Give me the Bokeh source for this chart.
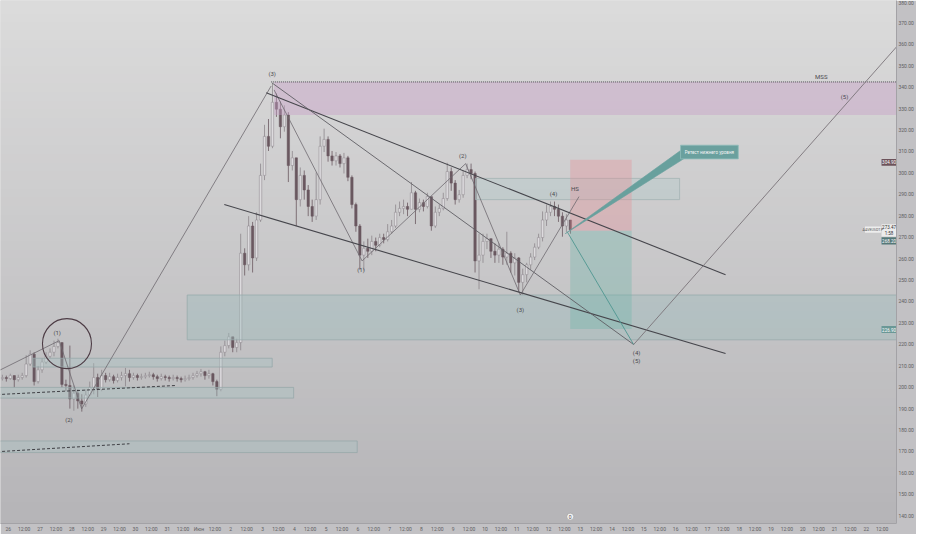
import numpy as np
from bokeh.plotting import figure
from bokeh.models import Range1d, FixedTicker, PrintfTickFormatter, ColumnDataSource
from bokeh.embed import file_html
from bokeh.resources import INLINE
from bokeh.core.properties import value

FONT = "Roboto"

# ---- candle data (3h candles, time in hours from the 1st of the month) ----
T_START = -150
STEP = 3
first_open = 204.0
close = [204.5,204.0,205.4,203.5,204.5,205.4,210.8,215.4,202.6,208.1,
         211.7,214.4,216.3,219.0,220.8,201.3,200.8,194.5,197.2,193.6,
         192.2,196.3,199.9,204.5,199.0,205.4,203.5,204.9,203.1,204.5,
         205.4,206.3,204.5,205.4,204.5,204.9,205.4,205.8,204.9,204.0,
         204.9,204.5,204.0,204.5,204.0,203.5,204.0,204.5,205.4,206.3,
         207.2,205.4,206.3,202.6,199.0,216.3,219.4,223.5,218.5,220.8,
         262.5,257.1,275.2,260.3,278.0,298.8,317.0,312.4,332.9,329.7,
         321.5,327.0,303.4,307.0,287.5,298.8,292.0,284.3,279.8,287.5,
         312.4,315.6,307.9,305.6,307.9,304.3,307.0,297.9,285.2,275.2,
         261.6,264.8,263.4,268.0,266.2,269.8,268.9,272.5,275.2,281.6,
         283.4,284.3,283.0,290.7,283.0,286.1,284.3,288.9,275.2,281.6,
         283.4,288.0,300.6,295.2,287.5,289.8,298.8,301.5,299.7,258.9,
         261.6,268.0,269.3,263.4,261.6,264.4,260.7,262.5,258.0,260.3,
         248.9,252.5,257.1,260.7,265.3,269.8,278.0,281.6,284.3,283.0,
         279.8,275.2,278.0,273.47]
high = [205.8,205.4,206.3,205.4,205.8,206.7,214.9,217.2,216.3,209.9,
        213.5,216.3,218.1,221.7,222.6,220.8,203.5,219.4,200.8,199.0,
        196.7,199.0,202.6,211.2,206.3,208.1,206.7,206.7,205.8,206.3,
        207.2,209.0,208.1,206.7,206.3,206.3,206.7,207.2,206.7,205.8,
        206.3,205.8,205.4,205.8,205.4,204.9,205.4,205.8,206.7,207.6,
        208.5,207.6,208.1,206.7,203.5,219.0,221.7,225.3,223.5,222.6,
        271.6,264.8,279.8,277.1,281.6,304.3,322.4,325.1,341.9,337.0,
        333.3,331.5,328.3,310.2,305.6,302.5,301.1,294.3,287.5,300.2,
        317.0,320.6,317.0,310.2,309.7,308.8,309.3,307.9,298.8,286.1,
        276.1,268.0,269.3,270.7,269.8,271.6,271.6,276.1,278.0,285.2,
        286.6,287.5,286.1,295.7,291.6,288.0,287.5,290.7,288.0,284.3,
        285.2,290.7,304.7,302.5,296.6,292.0,301.1,304.3,304.3,300.6,
        271.6,271.6,271.6,268.9,267.1,267.1,265.3,272.5,263.4,262.5,
        260.7,255.3,258.0,262.5,267.1,271.6,282.0,285.2,286.6,286.6,
        285.2,281.6,280.7,278.0]
low = [203.1,202.6,203.5,199.9,202.6,203.5,204.5,209.9,200.8,201.7,
       206.7,210.8,213.5,214.4,218.1,199.9,198.1,190.0,189.0,190.0,
       188.6,190.8,196.3,196.7,195.4,198.1,202.2,202.6,201.7,202.2,
       203.1,200.4,202.6,203.5,203.1,203.5,204.0,204.5,203.5,202.6,
       203.1,203.1,202.6,203.1,202.6,202.2,202.6,203.1,203.5,204.5,
       204.9,203.5,204.0,200.8,195.8,198.1,214.4,218.1,216.3,216.3,
       217.2,252.1,254.4,253.5,258.9,277.1,296.6,310.2,311.5,326.1,
       316.1,319.2,295.7,301.1,275.2,284.3,287.5,279.8,277.1,278.0,
       285.2,309.7,305.2,303.4,303.4,302.5,299.7,296.1,283.4,272.5,
       254.8,254.4,260.3,261.6,263.4,265.3,267.1,268.0,271.6,274.3,
       279.8,280.7,279.8,284.3,276.1,281.6,282.0,283.4,273.0,274.3,
       279.8,282.5,287.0,291.6,285.2,286.1,288.4,297.5,297.0,253.5,
       245.7,258.0,264.4,260.3,258.0,258.0,257.1,257.1,253.5,252.1,
       244.4,243.0,248.9,254.8,259.3,264.4,268.0,275.2,279.8,279.8,
       277.1,270.2,272.5,271.6]

# ---- drawings (time in hours, price) ----
pink_zone = dict(t0=56.7, t1=600, p0=327.0, p1=342.4)
demand_zone = dict(t0=-8.9, t1=600, p0=222.1, p1=243.0)
mid_box = dict(t0=208.8, t1=363.0, p0=287.5, p1=297.4)
left_boxes_t0 = [-125.5, -160.0, -160.0]
left_boxes_t1 = [55.3, 71.5, 119.5]
left_boxes_p0 = [209.4, 194.9, 169.5]
left_boxes_p1 = [213.5, 199.9, 174.9]
stop_box = dict(t0=280.4, t1=326.8, p0=273.0, p1=306.1)
target_box = dict(t0=280.4, t1=326.8, p0=227.1, p1=273.0)

wave1_t = [-160.0, -105.6, -88.6, 54.5]
wave1_p = [205.0, 221.7, 189.9, 340.5]
wave2_t = [56.7, 123.2, 201.4, 242.7, 287.0]
wave2_p = [338.7, 258.9, 304.3, 243.0, 288.9]
upper_ch_t = [50.8, 397.7]
upper_ch_p = [337.4, 252.5]
lower_ch_t = [19.1, 397.7]
lower_ch_p = [285.2, 215.7]
diag_t = [55.3, 328.3]
diag_p = [341.9, 219.9]
proj_t = [278.1, 328.3]
proj_p = [272.5, 219.9]
final_t = [328.3, 540.0]
final_p = [219.9, 368.0]
dash1_t = [-160.0, -17.1]
dash1_p = [196.3, 200.8]
dash2_t = [-160.0, -52.5]
dash2_p = [169.6, 173.6]
mss_t = [54.5, 600]
mss_p = [342.4, 342.4]

wave_labels = ["(3)", "(1)", "(2)", "(1)", "(2)", "(3)", "(4)", "(4)", "(5)", "(5)", "MSS", "HS"]
wave_labels_t = [55.3, -107.1, -98.2, 122.4, 199.2, 242.7, 267.8, 330.5, 330.5, 487.5, 470.0, 284.0]
wave_labels_p = [346.2, 225.3, 185.0, 254.8, 307.9, 236.2, 290.2, 216.3, 212.3, 335.5, 345.1, 292.9]

callout_text = "Ретест нижнего уровня"

# price-scale tags: bottom, top, text, text position
tag_bottom = [303.3, 270.3, 266.6, 225.3]
tag_top = [306.5, 276.0, 269.9, 228.5]
tag_text = ["304.90", "273.47\n1:58", "268.20", "226.90"]
tag_text_p = [304.9, 273.15, 268.25, 226.9]
tag_fill = ["#6d535b", "#ececec", "#557878", "#6a9896"]
tag_color = ["#ffffff", "#333333", "#ffffff", "#ffffff"]
symbol_text = "AAVEUSDT.P"

# ---- figure ----
p = figure(width=916, height=534, x_range=Range1d(-149.9, 526.8), y_range=Range1d(136.4, 380.4),
           y_axis_location="right", output_backend="svg", toolbar_location=None,
           min_border_left=0, min_border_top=0, min_border_right=0, min_border_bottom=0)
p.outline_line_color = None
p.border_fill_color = "#c2c1c4"
p.background_fill_color = "#cfcfd0"
p.xgrid.grid_line_color = None
p.ygrid.grid_line_color = None

# background gradient
n = 64
img = np.zeros((n, 1), dtype=np.uint32)
view = img.view(dtype=np.uint8).reshape((n, 1, 4))
top_c = (221, 221, 221)
bot_c = (181, 180, 183)
for k in range(n):
    f = k / (n - 1)
    view[k, 0, 0] = int(bot_c[0] + (top_c[0] - bot_c[0]) * f)
    view[k, 0, 1] = int(bot_c[1] + (top_c[1] - bot_c[1]) * f)
    view[k, 0, 2] = int(bot_c[2] + (top_c[2] - bot_c[2]) * f)
    view[k, 0, 3] = 255
p.image_rgba(image=[img], x=-160, y=130, dw=720, dh=260)

# candles
opens = [first_open] + close[:-1]
ts = [T_START + STEP * i + STEP / 2 for i in range(len(close))]
hi = [max(h, o, c) for h, o, c in zip(high, opens, close)]
lo = [min(l, o, c) for l, o, c in zip(low, opens, close)]
up = [c >= o for o, c in zip(opens, close)]
src = ColumnDataSource(dict(
    t=ts, h=hi, l=lo,
    top=[max(o, c) for o, c in zip(opens, close)],
    bot=[min(o, c) for o, c in zip(opens, close)],
    fill=["#dddbde" if u else "#6a5860" for u in up],
    line=["#8d878c" if u else "#6a5860" for u in up],
    wick=["#8d878c" if u else "#6a5860" for u in up],
))
p.segment(x0="t", y0="h", x1="t", y1="l", line_color="wick", line_width=0.8, source=src)
p.vbar(x="t", width=1.8, top="top", bottom="bot", fill_color="fill", line_color="line",
       line_width=0.5, source=src)

# zones
def zone(z, fill, alpha, border):
    p.quad(left=z["t0"], right=z["t1"], bottom=z["p0"], top=z["p1"], fill_color=fill,
           fill_alpha=alpha, line_color=border, line_width=0.8)

zone(pink_zone, "#c8a0c8", 0.42, None)
zone(demand_zone, "#9fbcbd", 0.45, "#98abac")
zone(mid_box, "#b0c8c8", 0.35, "#a3b3b4")
p.quad(left=left_boxes_t0, right=left_boxes_t1, bottom=left_boxes_p0, top=left_boxes_p1,
       fill_color="#a8c2c2", fill_alpha=0.38, line_color="#97a8a9", line_width=0.8)
zone(stop_box, "#e68c96", 0.35, None)
zone(target_box, "#6eb4aa", 0.35, None)

# lines
p.line(mss_t, mss_p, line_color="#4a4a50", line_width=1, line_dash="1 1")
p.line(dash1_t, dash1_p, line_color="#3f3f44", line_width=1, line_dash="3 2")
p.line(dash2_t, dash2_p, line_color="#3f3f44", line_width=1, line_dash="3 2")
p.line(wave1_t, wave1_p, line_color="#6e6a70", line_width=0.8)
p.line(wave2_t, wave2_p, line_color="#6e6a70", line_width=0.8)
p.line(upper_ch_t, upper_ch_p, line_color="#46464c", line_width=1.1)
p.line(lower_ch_t, lower_ch_p, line_color="#46464c", line_width=1.1)
p.line(diag_t, diag_p, line_color="#5f5d63", line_width=0.9)
p.line(proj_t, proj_p, line_color="#4f9691", line_width=0.9)
p.line(final_t, final_p, line_color="#7a7479", line_width=0.9)

# circle around (1)
p.ellipse(x=-99.7, y=220.3, width=49, height=50, width_units="screen", height_units="screen",
          fill_color=None, line_color="#4d3c45", line_width=1.1)

# callout
p.patch([276.6, 363.7, 366.7], [271.6, 310.4, 306.8], fill_color="#68a09d", line_color="#68a09d",
        line_width=0.6)
p.quad(left=363.7, right=407.3, bottom=306.5, top=312.9, fill_color="#6aa09e",
       line_color="#8fbcba", line_width=0.8)
p.text(x=[385.5], y=[309.7], text=[callout_text], text_font=value(FONT), text_font_size="4.5px",
       text_color="#f4f4f4", text_align="center", text_baseline="middle")

# wave labels
p.text(x=wave_labels_t, y=wave_labels_p, text=wave_labels, text_font=value(FONT),
       text_font_size="6px", text_color="#4a4a4f", text_align="center", text_baseline="middle")

# replay marker
p.scatter(x=[280.4], y=[139.6], size=7, marker="circle", fill_color="#f2f2f2", line_color="#9a9a9a",
          line_width=0.6)
p.text(x=[280.4], y=[139.6], text=["0"], text_font=value(FONT), text_font_size="5px",
       text_color="#555555", text_align="center", text_baseline="middle")

# price tags at the right edge of the chart
p.quad(left=515.5, right=526.8, bottom=tag_bottom, top=tag_top, fill_color=tag_fill,
       line_color=None)
p.text(x=[521.15] * len(tag_text), y=tag_text_p, text=tag_text, text_font=value(FONT),
       text_font_size="4.5px", text_color=tag_color, text_align="center", text_baseline="middle",
       text_line_height=1.1)
p.quad(left=[503.0], right=[515.0], bottom=[272.0], top=[275.0], fill_color="#ededed",
       line_color=None)
p.text(x=[509.0], y=[273.5], text=[symbol_text], text_font=value(FONT), text_font_size="3.6px",
       text_color="#555555", text_align="center", text_baseline="middle")

# axes
yt = list(range(140, 390, 10))
p.yaxis.ticker = FixedTicker(ticks=yt)
p.yaxis.formatter = PrintfTickFormatter(format="%.2f")
xt = list(range(-144, 517, 12))
overrides = {}
for t in xt:
    if t % 24 == 0:
        d = t // 24
        overrides[t] = str(32 + d) if d < 0 else ("Июн" if d == 0 else str(d + 1))
    else:
        overrides[t] = "12:00"
p.xaxis.ticker = FixedTicker(ticks=xt)
p.xaxis.major_label_overrides = overrides
for ax in (p.xaxis, p.yaxis):
    ax.axis_label = None
    ax.axis_label_standoff = 0
    ax.major_label_text_font = FONT
    ax.major_label_text_font_size = "5px"
    ax.major_label_text_color = "#5e5e62"
    ax.major_tick_line_color = None
    ax.minor_tick_line_color = None
    ax.major_tick_out = 0
    ax.major_tick_in = 0
    ax.minor_tick_out = 0
    ax.minor_tick_in = 0
    ax.axis_line_color = "#a3a2a6"
    ax.major_label_standoff = 2

open("out.html", "w").write(file_html(p, INLINE))
